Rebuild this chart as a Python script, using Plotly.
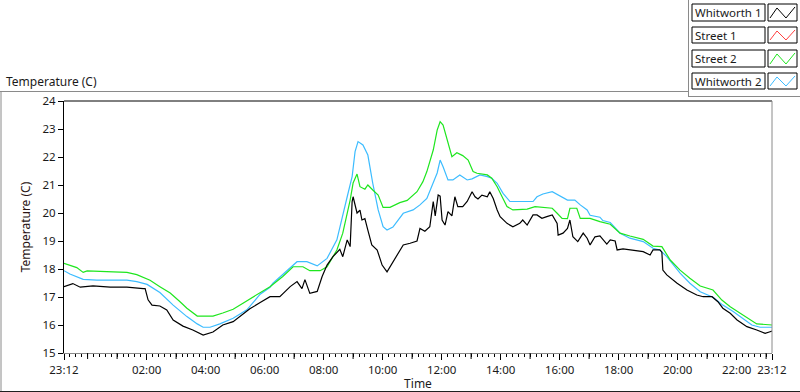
import plotly.graph_objects as go

# ---- data (x = minutes since 23:12, y = temperature in C) ----
w1_min = [0, 18, 33, 59, 94, 128, 161, 165, 171, 179, 195, 209, 222, 242, 262, 283, 303, 323, 344, 362,
          378, 399, 419, 439, 460, 474, 484, 490, 500, 515, 525, 535, 547, 561, 567, 576, 582, 586, 588,
          596, 602, 606, 612, 618, 626, 637, 647, 657, 667, 677, 690, 704, 718, 724, 734, 744, 748, 751,
          755, 761, 765, 769, 775, 781, 789, 795, 801, 811, 820, 830, 836, 842, 850, 861, 866, 873, 881,
          887, 901, 913, 927, 933, 942, 954, 962, 972, 982, 993, 1003, 1005, 1015, 1024, 1029, 1035, 1045,
          1056, 1064, 1070, 1080, 1090, 1104, 1111, 1121, 1125, 1137, 1157, 1178, 1192, 1198, 1212, 1216,
          1218, 1226, 1247, 1267, 1287, 1300, 1318, 1330, 1340, 1355, 1369, 1389, 1409, 1426, 1436, 1440]
w1_val = [17.37, 17.48, 17.35, 17.40, 17.35, 17.35, 17.30, 17.30, 16.90, 16.71, 16.68, 16.54, 16.18, 15.96,
          15.82, 15.64, 15.75, 16.00, 16.12, 16.36, 16.58, 16.80, 17.01, 17.01, 17.37, 17.55, 17.30, 17.62,
          17.13, 17.20, 17.73, 18.14, 18.44, 18.70, 18.44, 19.04, 18.80, 20.41, 20.58, 20.00, 20.10, 19.75,
          19.80, 19.39, 18.86, 18.68, 18.14, 17.90, 18.20, 18.50, 18.86, 18.92, 19.00, 19.45, 19.35, 19.51,
          20.11, 20.41, 19.90, 20.64, 20.60, 19.75, 19.57, 20.05, 19.90, 20.58, 20.23, 20.23, 20.41, 20.76,
          20.58, 20.50, 20.64, 20.58, 20.76, 20.52, 20.11, 19.87, 19.63, 19.51, 19.63, 19.75, 19.57, 19.93,
          19.93, 19.81, 19.87, 19.93, 19.63, 19.21, 19.28, 19.45, 19.75, 19.15, 18.98, 19.28, 19.10, 18.86,
          19.15, 19.18, 18.89, 19.04, 19.00, 18.68, 18.72, 18.68, 18.62, 18.50, 18.68, 18.68, 18.60, 17.96,
          17.79, 17.49, 17.25, 17.07, 17.01, 17.01, 16.83, 16.60, 16.42, 16.18, 15.94, 15.82, 15.70, 15.76,
          15.78]

s1_min = []   # Street 1: no data drawn
s1_val = []

s2_min = [0, 12, 26, 39, 47, 100, 128, 148, 175, 195, 216, 236, 250, 271, 303, 323, 344, 364, 378, 399,
          419, 445, 466, 486, 500, 521, 535, 555, 567, 582, 588, 596, 602, 612, 618, 628, 639, 649, 663,
          683, 698, 718, 730, 738, 751, 759, 765, 771, 779, 789, 799, 811, 822, 832, 840, 861, 870, 881,
          891, 901, 913, 942, 958, 982, 993, 1003, 1013, 1024, 1029, 1043, 1050, 1070, 1080, 1090, 1111,
          1131, 1151, 1178, 1198, 1216, 1233, 1253, 1273, 1294, 1320, 1338, 1355, 1375, 1389, 1409, 1440]
s2_val = [18.20, 18.12, 18.05, 17.88, 17.93, 17.90, 17.88, 17.80, 17.60, 17.37, 17.14, 16.83, 16.60, 16.32,
          16.32, 16.43, 16.56, 16.78, 16.93, 17.13, 17.37, 17.73, 18.08, 18.08, 17.94, 17.94, 18.08, 18.68,
          19.28, 20.46, 21.07, 21.39, 20.94, 20.85, 21.00, 20.82, 20.64, 20.20, 20.20, 20.37, 20.45, 20.76,
          21.12, 21.48, 22.25, 22.96, 23.26, 23.14, 22.61, 22.01, 22.15, 22.05, 21.89, 21.48, 21.42, 21.36,
          21.24, 20.94, 20.58, 20.23, 20.11, 20.14, 20.23, 20.20, 20.17, 19.99, 19.81, 19.80, 20.17, 20.17,
          19.81, 19.81, 19.75, 19.69, 19.60, 19.28, 19.18, 19.06, 18.82, 18.80, 18.32, 17.96, 17.67, 17.39,
          17.25, 16.89, 16.65, 16.42, 16.24, 16.04, 16.00]

w2_min = [0, 12, 39, 67, 128, 148, 169, 195, 222, 250, 271, 283, 297, 317, 344, 372, 399, 419, 425, 445,
          474, 494, 515, 535, 555, 576, 586, 592, 598, 608, 618, 628, 639, 649, 657, 669, 690, 710, 724,
          738, 748, 759, 765, 771, 781, 791, 805, 820, 830, 846, 861, 870, 881, 893, 907, 954, 962, 974,
          993, 1009, 1024, 1039, 1050, 1064, 1070, 1090, 1096, 1111, 1131, 1151, 1178, 1198, 1212, 1226,
          1253, 1273, 1294, 1320, 1340, 1361, 1381, 1399, 1416, 1440]
w2_val = [17.94, 17.82, 17.63, 17.60, 17.60, 17.55, 17.45, 17.16, 16.71, 16.30, 16.04, 15.92, 15.92, 16.04,
          16.24, 16.54, 17.10, 17.35, 17.49, 17.79, 18.26, 18.26, 18.11, 18.38, 19.04, 20.58, 21.30, 22.19,
          22.55, 22.43, 22.07, 21.06, 20.11, 19.51, 19.39, 19.50, 19.99, 20.11, 20.29, 20.52, 20.94, 21.43,
          21.89, 21.65, 21.18, 21.18, 21.36, 21.18, 21.22, 21.36, 21.30, 21.24, 21.06, 20.70, 20.41, 20.41,
          20.58, 20.68, 20.76, 20.60, 20.46, 20.46, 20.29, 20.11, 19.92, 19.85, 19.73, 19.66, 19.28, 19.10,
          18.98, 18.74, 18.68, 18.44, 17.85, 17.49, 17.19, 16.99, 16.71, 16.48, 16.24, 16.00, 15.92, 15.92]

series_names = ["Whitworth 1", "Street 1", "Street 2", "Whitworth 2"]
series_colors = ["#000000", "#ff2020", "#1ee61e", "#3cbcff"]
legend_icon_colors = ["#000000", "#ff4040", "#1ee61e", "#3cbcff"]

x_tick_vals = [0, 168, 288, 408, 528, 648, 768, 888, 1008, 1128, 1248, 1368, 1440]
x_tick_text = ["23:12", "02:00", "04:00", "06:00", "08:00", "10:00", "12:00",
               "14:00", "16:00", "18:00", "20:00", "22:00", "23:12"]
hour_ticks = [48 + 60 * i for i in range(24)]
y_tick_vals = [15, 16, 17, 18, 19, 20, 21, 22, 23, 24]

FONT = "Noto Sans"
TXT = "#1a1a1a"

fig = go.Figure()
data = [(w1_min, w1_val), (s1_min, s1_val), (s2_min, s2_val), (w2_min, w2_val)]
# draw order: blue, green, red, black on top
for idx in [3, 2, 1, 0]:
    xm, yv = data[idx]
    fig.add_trace(go.Scatter(x=xm, y=yv, mode="lines", name=series_names[idx],
                             line=dict(color=series_colors[idx], width=1.2),
                             showlegend=False, hoverinfo="skip"))

L, R, T, B = 64, 772, 101, 353
def px(x):
    return (x - L) / (R - L)
def py(y):
    return (B - y) / (B - T)

shapes = []
def line(x0, y0, x1, y1, color, w=1):
    shapes.append(dict(type="line", xref="paper", yref="paper", x0=px(x0), y0=py(y0),
                       x1=px(x1), y1=py(y1), line=dict(color=color, width=w), layer="above"))

# outer frame
line(0, 91.5, 688.5, 91.5, "#8a8a8a")
line(1, 91.5, 1, 392, "#8a8a8a")
line(0, 391.5, 800, 391.5, "#202020")
# legend frame
line(688.5, 0, 688.5, 97, "#8a8a8a")
line(688.5, 96.5, 800, 96.5, "#8a8a8a")
# plot frame: top black, right gray
line(L, T, R, T, "#000000")
line(R, T, R, B, "#8a8a8a")

annotations = []
rows = [(4, 21), (27, 43), (50, 67), (73, 89)]
for i, (top, bot) in enumerate(rows):
    shapes.append(dict(type="rect", xref="paper", yref="paper", x0=px(692), x1=px(765),
                       y0=py(bot), y1=py(top), line=dict(color="#000000", width=1),
                       fillcolor="white", layer="above"))
    shapes.append(dict(type="rect", xref="paper", yref="paper", x0=px(768), x1=px(797),
                       y0=py(bot), y1=py(top), line=dict(color="#000000", width=1),
                       fillcolor="white", layer="above"))
    pts = [(770, bot - 3), (777, top + 4), (786, bot - 3), (795, top + 3)]
    path = "M " + " L ".join(f"{px(a):.5f},{py(b):.5f}" for a, b in pts)
    shapes.append(dict(type="path", xref="paper", yref="paper", path=path,
                       line=dict(color=legend_icon_colors[i], width=1), layer="above"))
    annotations.append(dict(xref="paper", yref="paper", x=px(693), y=py((top + bot) / 2),
                            text=series_names[i], showarrow=False, xanchor="left",
                            yanchor="middle", font=dict(family=FONT, size=11.5, color=TXT)))

annotations.append(dict(xref="paper", yref="paper", x=px(4), y=py(81), text="Temperature (C)",
                        showarrow=False, xanchor="left", yanchor="middle",
                        font=dict(family=FONT, size=12, color=TXT)))

# hourly major ticks without labels (drawn as short lines below the axis)
for hm in hour_ticks:
    if hm not in x_tick_vals:
        shapes.append(dict(type="line", xref="x", yref="paper", x0=hm, x1=hm,
                           y0=0, y1=-6 / (B - T), line=dict(color="#000000", width=1)))

fig.update_layout(
    width=800, height=392, autosize=False,
    margin=dict(l=L, r=800 - R, t=T, b=392 - B, pad=0),
    paper_bgcolor="white", plot_bgcolor="white",
    font=dict(family=FONT, size=12, color=TXT),
    showlegend=False,
    shapes=shapes, annotations=annotations,
    xaxis=dict(range=[0, 1440], tickmode="array", tickvals=x_tick_vals, ticktext=x_tick_text,
               ticks="outside", ticklen=6, tickcolor="#000000", tickwidth=1,
               showgrid=False, zeroline=False, showline=True, linecolor="#8a8a8a", linewidth=1,
               tickfont=dict(family=FONT, size=11.5, color=TXT),
               minor=dict(tick0=0, dtick=12, ticks="outside", ticklen=3, tickcolor="#000000",
                          showgrid=False),
               title=dict(text="Time", standoff=0, font=dict(family=FONT, size=12, color=TXT)),
               automargin=False, fixedrange=True),
    yaxis=dict(range=[15, 24], tickvals=y_tick_vals, ticks="outside", ticklen=5,
               tickcolor="#000000", tickwidth=1, showgrid=False, zeroline=False,
               showline=True, linecolor="#000000", linewidth=1,
               tickfont=dict(family=FONT, size=11.5, color=TXT),
               title=dict(text="Temperature (C)", standoff=9,
                          font=dict(family=FONT, size=12, color="#2a1414")),
               automargin=False, fixedrange=True),
)

fig.write_html("out.html", config={"displayModeBar": False, "staticPlot": True},
               post_script="document.body.style.margin='0';document.body.style.overflow='hidden';")
